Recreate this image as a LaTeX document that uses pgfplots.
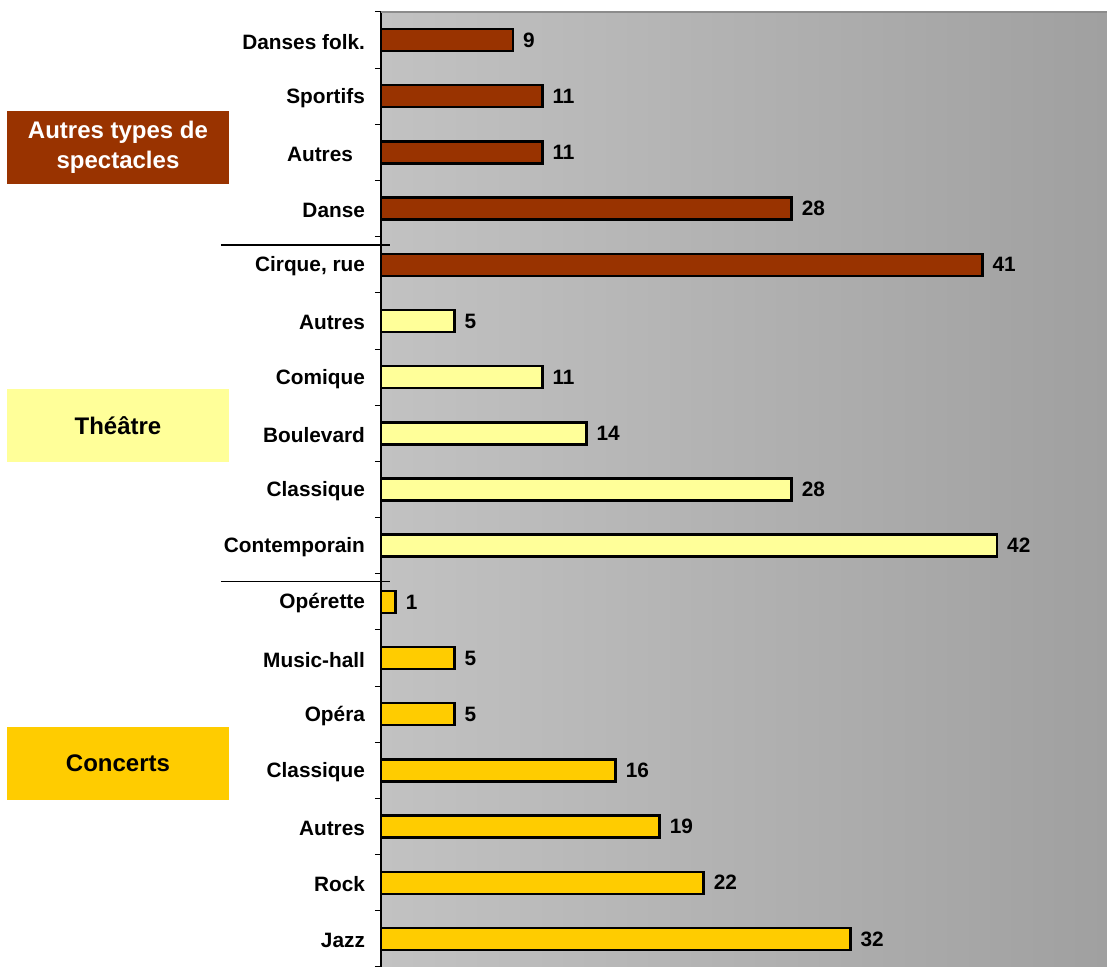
\documentclass[border=0pt]{standalone}
\usepackage{pgfplots}
\pgfplotsset{compat=1.18}
\usepackage{fontspec}
\setmainfont{Liberation Sans}
\definecolor{brun}{HTML}{993300}
\definecolor{jaunep}{HTML}{FFFF99}
\definecolor{or}{HTML}{FFCC00}
\definecolor{bgL}{HTML}{C2C2C2}
\definecolor{bgR}{HTML}{A0A0A0}
\begin{document}
\begin{tikzpicture}
\begin{axis}[
  scale only axis, width=363pt, height=477.5pt,
  xmin=0, xmax=49.5, ymin=-0.5, ymax=16.5,
  xbar, bar width=11pt, bar shift=0pt,
  axis line style={draw=none},
  xtick=\empty,
  ytick={0,...,16},
  yticklabels={Jazz,Rock,Autres,Classique,Opéra,Music-hall,Opérette,Contemporain,Classique,Boulevard,Comique,Autres,{Cirque, rue},Danse,Autres\rule{6pt}{0pt},Sportifs,Danses folk.},
  minor ytick={-0.5,0.5,...,16.5},
  ytick pos=left, tick align=outside,
  major tick length=0pt, minor tick length=3pt,
  tick style={black, line width=0.5pt},
  yticklabel style={font=\fontsize{10.4}{12}\selectfont\bfseries, xshift=-4.5pt, yshift=-0.8pt},
  /pgf/number format/assume math mode=true,
  nodes near coords,
  nodes near coords style={font=\fontsize{10.4}{12}\selectfont\bfseries, anchor=west, inner sep=0pt, xshift=4.5pt, text=black},
  axis background/.style={left color=bgL, right color=bgR},
  clip=false,
  every axis plot/.append style={draw=black, line width=1.2pt},
]
\addplot[fill=brun] coordinates {(9,16) (11,15) (11,14) (28,13) (41,12)};
\addplot[fill=jaunep] coordinates {(5,11) (11,10) (14,9) (28,8) (42,7)};
\addplot[fill=or] coordinates {(1,6) (5,5) (5,4) (16,3) (19,2) (22,1) (32,0)};
\draw[black, line width=0.6pt] (rel axis cs:0,0) -- (rel axis cs:0,1);
\draw[gray!90, line width=0.8pt] (rel axis cs:0,1) -- (rel axis cs:1,1);
\draw[black, line width=0.8pt] ([xshift=-80pt]axis cs:0,12.35) -- ([xshift=4.5pt]axis cs:0,12.35);
\draw[black, line width=0.8pt] ([xshift=-80pt]axis cs:0,6.36) -- ([xshift=4.5pt]axis cs:0,6.36);
\node[fill=brun, text=white, minimum width=111pt, minimum height=36.5pt, align=center, inner sep=0pt,
  font=\fontsize{12}{15}\selectfont\bfseries] at ([xshift=-131.5pt]axis cs:0,14.09) {Autres types de\\spectacles};
\node[fill=jaunep, text=black, minimum width=111pt, minimum height=36.5pt, align=center, inner sep=0pt,
  font=\fontsize{12}{15}\selectfont\bfseries] at ([xshift=-131.5pt]axis cs:0,9.14) {Théâtre};
\node[fill=or, text=black, minimum width=111pt, minimum height=36.5pt, align=center, inner sep=0pt,
  font=\fontsize{12}{15}\selectfont\bfseries] at ([xshift=-131.5pt]axis cs:0,3.13) {Concerts};
\end{axis}
\pgfresetboundingbox
\path[use as bounding box] ([xshift=-190.5pt]current axis.south west) rectangle ([yshift=6pt]current axis.north east);
\end{tikzpicture}
\end{document}
